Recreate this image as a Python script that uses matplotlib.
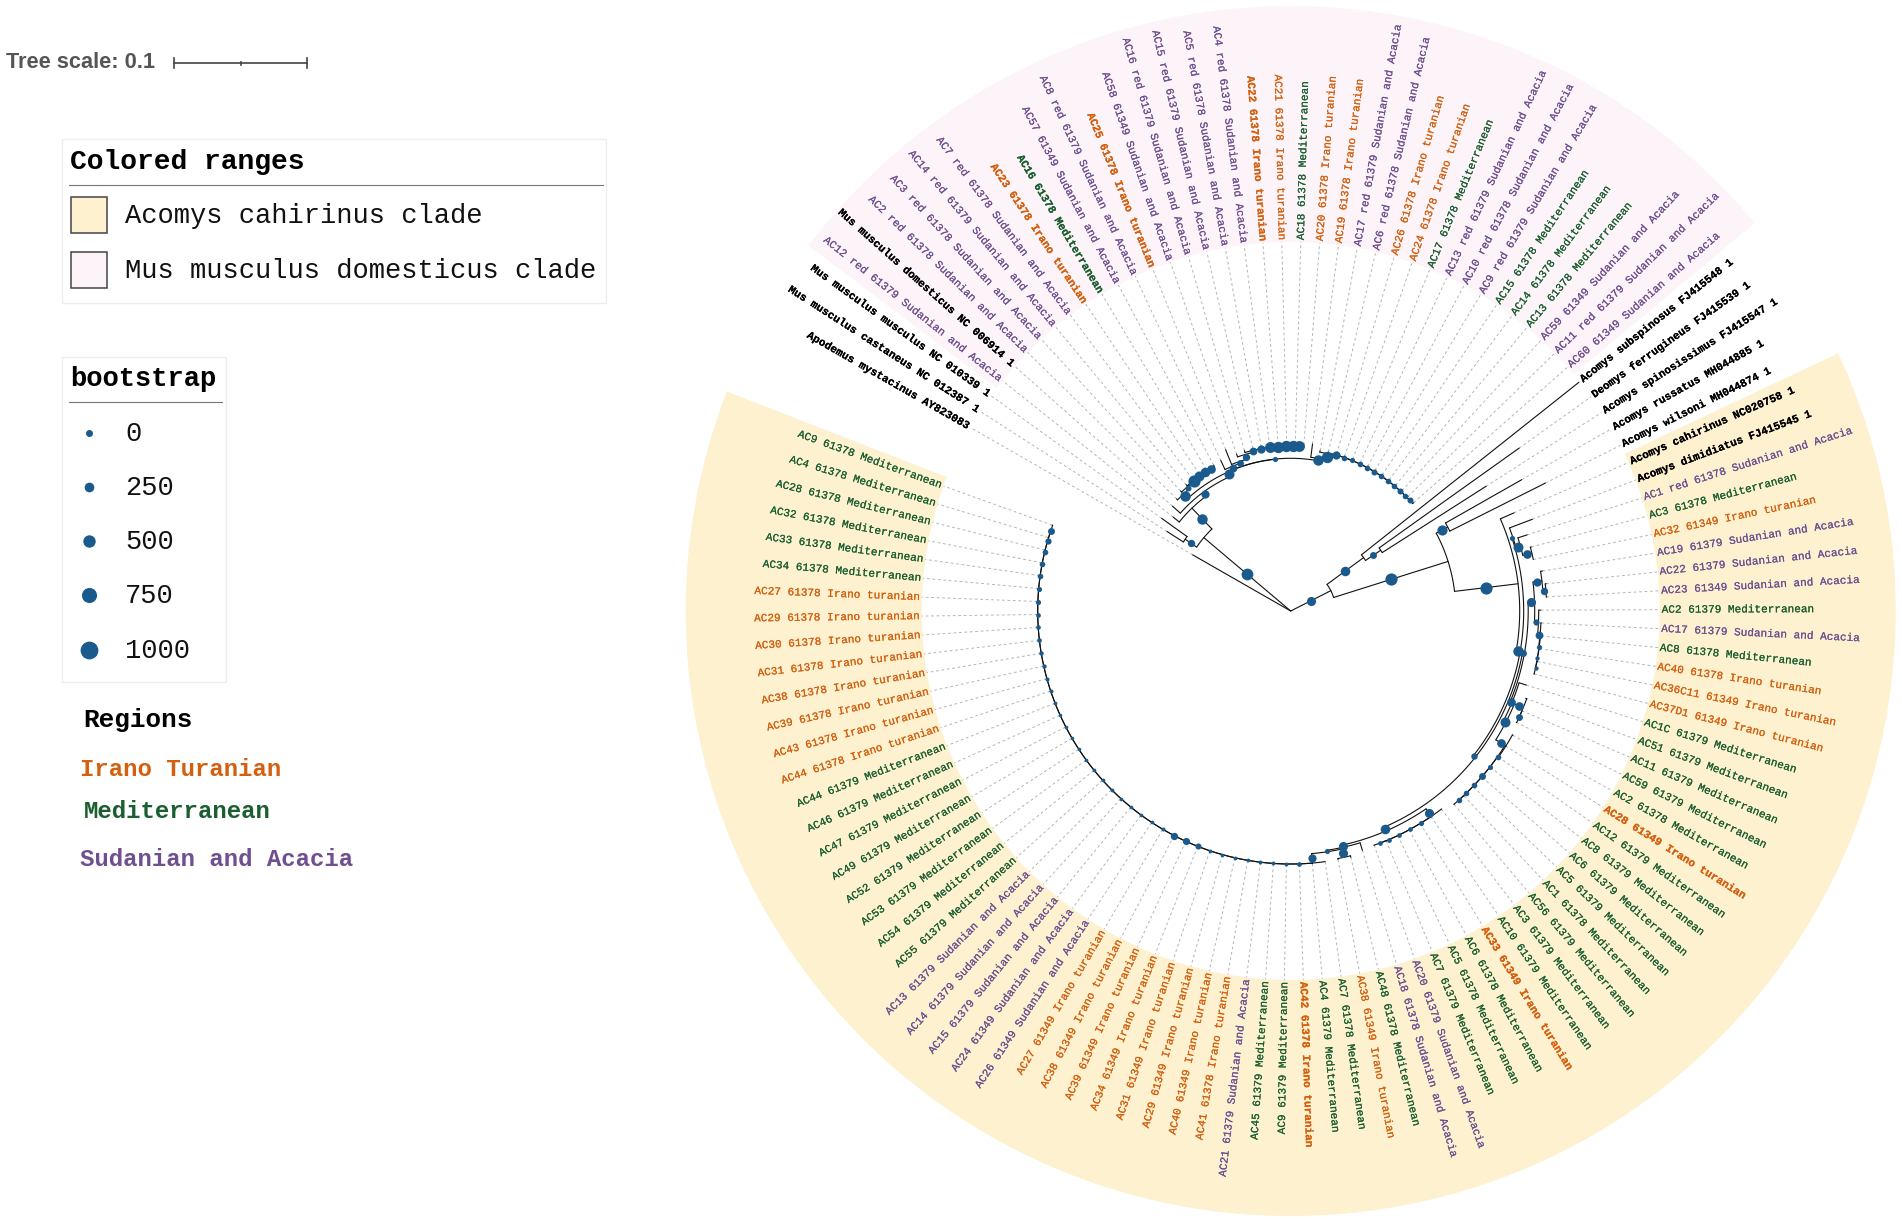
import numpy as np
import matplotlib
matplotlib.use("Agg")
import matplotlib.pyplot as plt
import matplotlib.patheffects as pe
from matplotlib.patches import Polygon, Rectangle

# =========================
# LEAVES (clockwise, starting at Apodemus)
# =========================
leaf_labels = [
    "Apodemus mystacinus AY823083", "Mus musculus castaneus NC 012387 1", "Mus musculus musculus NC 010339 1",
    "AC12 red 61379 Sudanian and Acacia", "Mus musculus domesticus NC 006914 1", "AC2 red 61378 Sudanian and Acacia",
    "AC3 red 61378 Sudanian and Acacia", "AC14 red 61379 Sudanian and Acacia", "AC7 red 61378 Sudanian and Acacia",
    "AC23 61378 Irano turanian", "AC16 61378 Mediterranean", "AC57 61349 Sudanian and Acacia",
    "AC8 red 61379 Sudanian and Acacia", "AC25 61378 Irano turanian", "AC58 61349 Sudanian and Acacia",
    "AC16 red 61379 Sudanian and Acacia", "AC15 red 61379 Sudanian and Acacia", "AC5 red 61378 Sudanian and Acacia",
    "AC4 red 61378 Sudanian and Acacia", "AC22 61378 Irano turanian", "AC21 61378 Irano turanian",
    "AC18 61378 Mediterranean", "AC20 61378 Irano turanian", "AC19 61378 Irano turanian",
    "AC17 red 61379 Sudanian and Acacia", "AC6 red 61378 Sudanian and Acacia", "AC26 61378 Irano turanian",
    "AC24 61378 Irano turanian", "AC17 61378 Mediterranean", "AC13 red 61379 Sudanian and Acacia",
    "AC10 red 61378 Sudanian and Acacia", "AC9 red 61379 Sudanian and Acacia", "AC15 61378 Mediterranean",
    "AC14 61378 Mediterranean", "AC13 61378 Mediterranean", "AC59 61349 Sudanian and Acacia",
    "AC11 red 61379 Sudanian and Acacia", "AC60 61349 Sudanian and Acacia", "Acomys subspinosus FJ415548 1",
    "Deomys ferrugineus FJ415539 1", "Acomys spinosissimus FJ415547 1", "Acomys russatus MH044885 1",
    "Acomys wilsoni MH044874 1", "Acomys cahirinus NC020758 1", "Acomys dimidiatus FJ415545 1",
    "AC1 red 61378 Sudanian and Acacia", "AC3 61378 Mediterranean", "AC32 61349 Irano turanian",
    "AC19 61379 Sudanian and Acacia", "AC22 61379 Sudanian and Acacia", "AC23 61349 Sudanian and Acacia",
    "AC2 61379 Mediterranean", "AC17 61379 Sudanian and Acacia", "AC8 61378 Mediterranean",
    "AC40 61378 Irano turanian", "AC36C11 61349 Irano turanian", "AC37D1 61349 Irano turanian",
    "AC1C 61379 Mediterranean", "AC51 61379 Mediterranean", "AC11 61379 Mediterranean",
    "AC59 61379 Mediterranean", "AC2 61378 Mediterranean", "AC28 61349 Irano turanian",
    "AC12 61379 Mediterranean", "AC8 61379 Mediterranean", "AC6 61379 Mediterranean",
    "AC5 61379 Mediterranean", "AC1 61378 Mediterranean", "AC56 61379 Mediterranean",
    "AC3 61379 Mediterranean", "AC10 61379 Mediterranean", "AC33 61349 Irano turanian",
    "AC6 61378 Mediterranean", "AC5 61378 Mediterranean", "AC7 61379 Mediterranean",
    "AC20 61379 Sudanian and Acacia", "AC18 61378 Sudanian and Acacia", "AC48 61378 Mediterranean",
    "AC38 61349 Irano turanian", "AC7 61378 Mediterranean", "AC4 61379 Mediterranean",
    "AC42 61378 Irano turanian", "AC9 61379 Mediterranean", "AC45 61379 Mediterranean",
    "AC21 61379 Sudanian and Acacia", "AC41 61378 Irano turanian", "AC40 61349 Irano turanian",
    "AC29 61349 Irano turanian", "AC31 61349 Irano turanian", "AC34 61349 Irano turanian",
    "AC39 61349 Irano turanian", "AC38 61349 Irano turanian", "AC27 61349 Irano turanian",
    "AC26 61349 Sudanian and Acacia", "AC24 61349 Sudanian and Acacia", "AC15 61379 Sudanian and Acacia",
    "AC14 61379 Sudanian and Acacia", "AC13 61379 Sudanian and Acacia", "AC55 61379 Mediterranean",
    "AC54 61379 Mediterranean", "AC53 61379 Mediterranean", "AC52 61379 Mediterranean",
    "AC49 61379 Mediterranean", "AC47 61379 Mediterranean", "AC46 61379 Mediterranean",
    "AC44 61379 Mediterranean", "AC44 61378 Irano turanian", "AC43 61378 Irano turanian",
    "AC39 61378 Irano turanian", "AC38 61378 Irano turanian", "AC31 61378 Irano turanian",
    "AC30 61378 Irano turanian", "AC29 61378 Irano turanian", "AC27 61378 Irano turanian",
    "AC34 61378 Mediterranean", "AC33 61378 Mediterranean", "AC32 61378 Mediterranean",
    "AC28 61378 Mediterranean", "AC4 61378 Mediterranean", "AC9 61378 Mediterranean",
]

# distance of each leaf from the root, in pixels of the tree scale
tip_radius = [
    113, 147, 158.8, 150.6, 158, 160, 163, 164, 165, 165, 165, 165,
    166, 174, 166, 167, 167, 167, 167, 167, 167, 167, 167, 168.5,
    163, 163.5, 164, 164, 164, 164, 164, 164, 164, 164, 164, 164, 164, 164,
    368, 280.6, 231.8, 265.7, 285, 244, 258.5, 248.3, 249, 248,
    255, 257, 256.4, 250, 251, 252, 252, 252, 251.6, 247, 250.7, 252, 251.6,
    254.5, 254, 254, 254, 254, 254, 253.5, 253.2,
    249, 249, 249, 249, 249, 249, 248.5, 250, 253.4, 253, 253,
    253.5, 253.5, 253.5, 253.5, 253.5, 253.5, 253.5, 253.5, 253.5, 253.5,
    253.5, 253.5, 253.5, 253.5, 253.5, 253.5, 253.5, 253.5, 253.5, 253.5,
    253.5, 253.5, 253.5, 253.5, 253.5, 253.5, 253.5, 253.5, 253.5, 253.5,
    253.5, 253.5, 253.5, 253.5, 253.5, 253.5, 253.5, 253.5, 253.5, 253.5,
]

# labels drawn heavier in the reference
bold_labels = [
    "AC22 61378 Irano turanian", "AC25 61378 Irano turanian",
    "AC23 61378 Irano turanian", "AC16 61378 Mediterranean", "AC33 61349 Irano turanian",
    "AC28 61349 Irano turanian", "AC42 61378 Irano turanian",
]

# =========================
# LADDER CLADES (node radius + bootstrap, outermost node first)
# =========================
w_radius = [158.6, 161.5, 162.5, 163, 163, 163.3]
w_boot = [800, 300, 1000, 750, 700, 600]
l2_radius = [156, 158, 163, 165, 165, 165, 165, 165, 165, 165]
l2_boot = [500, 400, 450, 500, 550, 850, 900, 900, 900, 850]
y_radius = [155, 161.5, 162.5, 162.5, 162.5, 162.5, 162.5, 162.5, 162.5, 162.5, 162.5, 162.5, 162.5, 162.5]
y_boot = [800, 900, 550, 250, 200, 250, 250, 300, 250, 250, 250, 300, 250, 300]
s2_radius = [248, 250.5, 251, 251.2, 251.4]
s2_boot = [320, 500, 200, 100, 100]
y3_radius = [254, 253, 253, 253, 253, 253, 253]
y3_boot = [600, 250, 200, 400, 250, 250, 250]
y2_radius = [248.9, 248.8, 248.8, 248.8, 248.8, 248.6]
y2_boot = [650, 200, 150, 150, 150, 150]
c3_radius = [253] * 40
c3_boot = [550, 150, 60, 60, 60, 40, 40, 40, 40, 300, 420, 450, 60, 30, 30, 30, 30, 40, 40, 40,
           30, 20, 20, 20, 20, 40, 70, 80, 100, 120, 140, 140, 150, 200, 200, 250, 250, 250, 320, 400]

# =========================
# LEGEND VALUES
# =========================
range_names = ["Acomys cahirinus clade", "Mus musculus domesticus clade"]
range_colors = ["#FDF1D0", "#FDF4FA"]
bootstrap_values = [0, 250, 500, 750, 1000]
region_names = ["Irano Turanian", "Mediterranean", "Sudanian and Acacia"]
region_colors = ["#D4600F", "#1B5E30", "#6F4F8F"]

# =========================
# LAYOUT
# =========================
CX, CY = 1290.7, 611.0
START = 150.2
STEP = 350.0 / 119
R_IN, R_OUT = 369.0, 605.0
R_LABEL = 371.0
LINE = "#111111"
DOT = "#1A5A8C"
MONO = "Liberation Mono"


def polar(r, a):
    return CX + r * np.cos(np.radians(a)), CY - r * np.sin(np.radians(a))


def leaf_angle(i):
    return START - i * STEP


def node(r, boot, *kids):
    return {"r": r, "boot": boot, "kids": list(kids)}


def ladder(first, last, radii, boots):
    sub = node(radii[-1], boots[-1], last - 1, last)
    for k in range(len(radii) - 2, -1, -1):
        sub = node(radii[k], boots[k], first + k, sub)
    return sub


# =========================
# TREE
# =========================
N3 = node(152.5, 750,
          ladder(5, 11, w_radius, w_boot),
          node(152.7, 200, ladder(12, 22, l2_radius, l2_boot), ladder(23, 37, y_radius, y_boot)))
N1 = node(142.6, 800, 3, node(147.5, 550, 4, N3))
A1 = node(113.7, 950, node(127.6, 450, 1, 2), N1)

P1 = node(234, 200, 44, node(238.7, 750, 45, node(248, 600, 46, 47)))
S = node(244, 650,
         node(253, 550, 48, node(256, 450, 49, 50)),
         ladder(51, 56, s2_radius, s2_boot))
X = node(242.2, 750,
         node(251.8, 600, 58, node(252, 400, 59, 60)),
         ladder(61, 68, y3_radius, y3_boot))
T = node(237.5, 400, S, node(239.4, 600, 57, X))
C4 = node(243.5, 200, node(252, 650, 77, 78), ladder(79, 119, c3_radius, c3_boot))
Z = node(239.7, 700, ladder(69, 75, y2_radius, y2_boot), node(242, 650, 76, C4))
Q = node(233, 800, P1, node(235.5, 350, T, Z))
C0 = node(165, 1000, node(178, 770, 41, 42), node(229, 1000, 43, Q))
C1 = node(90.3, 700, 38, node(108.6, 400, 39, 40))
B = node(45, 650, C1, C0)
root = node(0, None, 0, A1, B)

segments = []
dots = []


def layout(item, parent_r):
    if isinstance(item, int):
        a = leaf_angle(item)
        segments.append(np.array([polar(parent_r, a), polar(tip_radius[item], a)]))
        return a
    angles = [layout(k, item["r"]) for k in item["kids"]]
    a = (angles[0] + angles[-1]) / 2
    if item["r"] > 0:
        arc = np.linspace(angles[0], angles[-1], 40)
        segments.append(np.column_stack(polar(item["r"], arc)))
        segments.append(np.array([polar(parent_r, a), polar(item["r"], a)]))
        dots.append(((parent_r + item["r"]) / 2, a, item["boot"]))
    return a


layout(root, 0)

# =========================
# FIGURE
# =========================
fig = plt.figure(figsize=(19.02, 12.22), dpi=100)
ax = fig.add_axes([0, 0, 1, 1])
ax.set_xlim(0, 1902)
ax.set_ylim(1222, 0)
ax.axis("off")


def band(a0, a1, color):
    arc = np.linspace(a0, a1, 300)
    outer = np.column_stack(polar(R_OUT, arc))
    inner = np.column_stack(polar(R_IN, arc[::-1]))
    ax.add_patch(Polygon(np.vstack([outer, inner]), closed=True, fc=color, ec="none", zorder=1))


half = STEP / 2
band(leaf_angle(43) + half, leaf_angle(119) - half, range_colors[0])
band(leaf_angle(3) + half, leaf_angle(37) - half, range_colors[1])

# dashed leaf guides + labels
for i, label in enumerate(leaf_labels):
    a = leaf_angle(i)
    if tip_radius[i] < R_IN - 5:
        xs, ys = polar(np.array([tip_radius[i], R_IN]), a)
        ax.plot(xs, ys, color="#B4B4B4", lw=0.7, ls=(0, (2.8, 2.8)), zorder=2)

    color = "black"
    for key, c in zip(["turanian", "Mediterranean", "Acacia"], region_colors):
        if label.endswith(key):
            color = c
    heavy = color == "black" or label in bold_labels
    x, y = polar(R_LABEL, a)
    rot, ha = (a, "left") if np.cos(np.radians(a)) >= 0 else (a + 180, "right")
    t = ax.text(x, y, label, rotation=rot, rotation_mode="anchor", ha=ha, va="center",
                family=MONO, fontsize=7.95, color=color, weight="bold" if heavy else "normal", zorder=5)
    # reference text is a soft, slightly heavier raster
    t.set_path_effects([pe.withStroke(linewidth=0.1, foreground=color)])

for seg in segments:
    ax.plot(seg[:, 0], seg[:, 1], color=LINE, lw=0.8, solid_capstyle="round", zorder=3)


def tree_size(b):
    return (2 * (1.7 + 4.4 * b / 1000) * 0.72) ** 2


for r, a, b in dots:
    x, y = polar(r, a)
    ax.scatter([x], [y], s=tree_size(b), color=DOT, linewidths=0, zorder=4)

# =========================
# TREE SCALE
# =========================
ax.text(6, 63, "Tree scale: 0.1", family="Liberation Sans", weight="bold", fontsize=15.7,
        color="#555555", va="center")
ax.plot([174, 307], [63, 63], color="#444444", lw=1.2)
for bar_x, half_h in zip([174, 240.5, 307], [5, 1.5, 5]):
    ax.plot([bar_x, bar_x], [63 - half_h, 63 + half_h], color="#444444", lw=1.2)

# =========================
# LEGEND BOXES
# =========================
ax.add_patch(Rectangle((62, 138.5), 544, 164, fc="white", ec="#EEEEEE", lw=1))
ax.text(70, 162, "Colored ranges", family=MONO, weight="bold", fontsize=20.2, va="center", color="black")
ax.plot([69, 603], [185, 185], color="#777777", lw=0.8)
for name, color, top in zip(range_names, range_colors, [197, 252]):
    ax.add_patch(Rectangle((70.5, top), 36.5, 36, fc=color, ec="#444444", lw=1.1))
    ax.text(125, top + 19, name, family=MONO, fontsize=19.5, va="center", color="#111111")

ax.add_patch(Rectangle((62, 357), 164, 325, fc="white", ec="#EEEEEE", lw=1))
ax.text(70, 379, "bootstrap", family=MONO, weight="bold", fontsize=19.5, va="center", color="black")
ax.plot([69, 222], [402, 402], color="#777777", lw=0.8)
for value, row_y in zip(bootstrap_values, [433, 487, 541, 595, 650]):
    radius = 3.5 + 5.4 * value / 1000
    ax.scatter([88.7], [row_y], s=(2 * radius * 0.72) ** 2, color=DOT, linewidths=0, zorder=4)
    ax.text(125, row_y + 1, str(value), family=MONO, fontsize=19.5, va="center", color="#111111")

ax.text(83, 720, "Regions", family=MONO, weight="bold", fontsize=18.7, va="center", color="black")
for name, color, row_x, row_y in zip(region_names, region_colors, [80, 84, 80], [769, 811, 859]):
    ax.text(row_x, row_y, name, family=MONO, weight="bold", fontsize=17.3, va="center", color=color)

fig.savefig("out.png", dpi=100)
